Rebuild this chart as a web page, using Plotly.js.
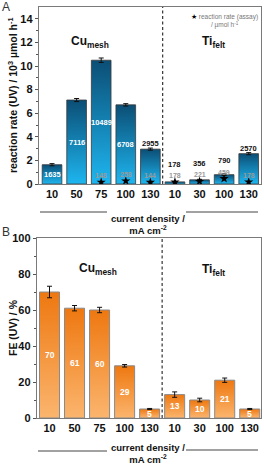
<!DOCTYPE html>
<html><head><meta charset="utf-8">
<script src="https://cdn.plot.ly/plotly-3.0.1.min.js"></script>
<style>html,body{margin:0;padding:0;background:#fff;} #chart{width:264px;height:465px;}</style>
</head><body><div id="chart"></div>
<script>
// ---- data ----
const tickLabels = ['10','50','75','100','130','10','30','100','130'];
const groupNames = ['Cu<sub>mesh</sub>','Ti<sub>felt</sub>'];
const rateUV = [1635, 7116, 10489, 6708, 2955, 178, 356, 790, 2570];      // µmol h-1
const rateUVErr = [90, 130, 190, 100, 90, 30, 40, 70, 90];
const rateAssay = [null, null, 148, 258, 144, 178, 221, 459, 178];       // µmol h-1
const feUV = [70, 61, 60, 29, 5, 13, 10, 21, 5];                          // %
const feErr = [3.2, 1.5, 1.5, 0.7, 0.3, 1.5, 1.0, 1.2, 0.3];

const FONT = 'Liberation Sans, Arial, sans-serif';
const xPos = tickLabels.map((_, i) => i);
const rateK = rateUV.map(v => v / 1000);
const assayK = rateAssay.map(v => v == null ? null : v / 1000);

const data = [
  {type:'bar', x:xPos, y:rateK, xaxis:'x', yaxis:'y', width:0.8,
   marker:{color:'#1590c8', line:{color:'#3a3a3a', width:0.8}},
   error_y:{type:'data', array:rateUVErr.map(v=>v/1000), color:'#111', thickness:1, width:2.5}},
  {type:'scatter', mode:'markers', x:xPos, y:assayK, xaxis:'x', yaxis:'y',
   marker:{symbol:'star', size:7, color:'#000'}},
  {type:'bar', x:xPos, y:feUV, xaxis:'x2', yaxis:'y2', width:0.8,
   marker:{color:'#f59640', line:{color:'#8a8a8a', width:1}},
   error_y:{type:'data', array:feErr, color:'#111', thickness:1, width:2.5}}
];

const ann = [];
function A(o) { ann.push(Object.assign({showarrow:false, xanchor:'center', yanchor:'middle'}, o)); }
// panel A labels
rateK.forEach((v, i) => {
  if (i < 4) {
    A({xref:'x', yref:'y', x:i, y:v/2, text:'<b>'+rateUV[i]+'</b>',
      font:{family:FONT, size:7.5, color:'#fff'}});
  } else {
    const g = assayK[i] != null ? assayK[i] + 0.55 : 0;
    const yb = Math.max(v + 0.45, g + 0.95);
    A({xref:'x', yref:'y', x:i, y:yb, text:'<b>'+rateUV[i]+'</b>',
      font:{family:FONT, size:7.5, color:'#111'}});
  }
  if (assayK[i] != null) {
    A({xref:'x', yref:'y', x:i, y:assayK[i] + 0.55, text:'<b>'+rateAssay[i]+'</b>',
      font:{family:FONT, size:7, color:'#999'}});
  }
});
// panel B labels
feUV.forEach((v, i) => {
  A({xref:'x2', yref:'y2', x:i, y:v/2, text:'<b>'+v+'</b>',
    font:{family:FONT, size:8.5, color:'#fff'}});
});
// group labels
A({xref:'x', yref:'y', x:1.55, y:12, text:'<b>'+groupNames[0]+'</b>', font:{family:FONT, size:12, color:'#111'}});
A({xref:'x', yref:'y', x:6.55, y:12, text:'<b>'+groupNames[1]+'</b>', font:{family:FONT, size:12, color:'#111'}});
A({xref:'x2', yref:'y2', x:1.95, y:83, text:'<b>'+groupNames[0]+'</b>', font:{family:FONT, size:12, color:'#111'}});
A({xref:'x2', yref:'y2', x:6.55, y:82, text:'<b>'+groupNames[1]+'</b>', font:{family:FONT, size:12, color:'#111'}});
// legend text
A({xref:'paper', yref:'paper', x:0.995, y:0.99, xanchor:'right', yanchor:'top', align:'center',
  text:'<span style="color:#000">★</span> reaction rate (assay)<br>/ µmol h<sup>-1</sup>',
  font:{family:FONT, size:6.5, color:'#777'}});
// panel letters
A({xref:'paper', yref:'paper', x:-37/224, y:(418-7)/411, xanchor:'left', text:'A', font:{family:FONT, size:12, color:'#333'}});
A({xref:'paper', yref:'paper', x:-37/224, y:(418-232)/411, xanchor:'left', text:'B', font:{family:FONT, size:12, color:'#333'}});
// x titles
A({xref:'paper', yref:'paper', x:(148-37)/224, y:(418-224)/411, text:'<b>current density /<br>mA cm<sup>-2</sup></b>', font:{family:FONT, size:9.5, color:'#111'}});
A({xref:'paper', yref:'paper', x:(148-37)/224, y:(418-453)/411, text:'<b>current density /<br>mA cm<sup>-2</sup></b>', font:{family:FONT, size:9.5, color:'#111'}});
// y titles
A({xref:'paper', yref:'paper', x:-24/224, y:(418-95)/411, textangle:-90, text:'<b>reaction rate (UV) / 10<sup>3</sup> µmol h<sup>-1</sup></b>', font:{family:FONT, size:10.5, color:'#111'}});
A({xref:'paper', yref:'paper', x:-24/224, y:(418-328)/411, textangle:-90, text:'<b>FE (UV) / %</b>', font:{family:FONT, size:10.5, color:'#111'}});

const lineStyle = {color:'#444', width:1};
const dashStyle = {color:'#333', width:1.2, dash:'3px,2.5px'};
const shapes = [
  {type:'line', xref:'x', yref:'y domain', x0:4.5, x1:4.5, y0:0, y1:1, line:dashStyle},
  {type:'line', xref:'x2', yref:'y2 domain', x0:4.5, x1:4.5, y0:0, y1:1, line:dashStyle},
  {type:'line', xref:'paper', yref:'paper', x0:(40-37)/224, x1:(107-37)/224, y0:(418-212)/411, y1:(418-212)/411, line:lineStyle},
  {type:'line', xref:'paper', yref:'paper', x0:(186-37)/224, x1:(258-37)/224, y0:(418-212)/411, y1:(418-212)/411, line:lineStyle},
  {type:'line', xref:'paper', yref:'paper', x0:(38-37)/224, x1:(107-37)/224, y0:(418-451)/411, y1:(418-451)/411, line:lineStyle},
  {type:'line', xref:'paper', yref:'paper', x0:(186-37)/224, x1:(258-37)/224, y0:(418-450)/411, y1:(418-450)/411, line:lineStyle}
];

const axCommon = {linecolor:'#7a7a7a', linewidth:1.2, mirror:true, showgrid:false, zeroline:false,
  tickfont:{family:FONT, size:11, color:'#111', weight:'bold'}};

const layout = {
  width:264, height:465, margin:{l:37, r:3, t:7, b:47},
  paper_bgcolor:'#fff', plot_bgcolor:'#fff', showlegend:false, bargap:0.2,
  font:{family:FONT},
  xaxis:Object.assign({}, axCommon, {domain:[2/224, 1], anchor:'y', range:[-0.53, 8.5],
    tickmode:'array', tickvals:xPos, ticktext:tickLabels, ticks:''}),
  yaxis:Object.assign({}, axCommon, {domain:[(418-184)/411, 1], anchor:'x', range:[0, 15],
    tickvals:[0,2,4,6,8,10,12,14], ticks:'outside', ticklen:3, tickcolor:'#555',
    minor:{tickvals:[1,3,5,7,9,11,13], ticks:'outside', ticklen:2, tickcolor:'#555'}}),
  xaxis2:Object.assign({}, axCommon, {domain:[0, 1], anchor:'y2', range:[-0.5, 8.45],
    tickmode:'array', tickvals:xPos, ticktext:tickLabels, ticks:''}),
  yaxis2:Object.assign({}, axCommon, {domain:[0, (418-238)/411], anchor:'x2', range:[0, 100],
    tickvals:[0,20,40,60,80,100], ticks:'outside', ticklen:3, tickcolor:'#555',
    minor:{tickvals:[10,30,50,70,90], ticks:'outside', ticklen:2, tickcolor:'#555'}}),
  annotations:ann, shapes:shapes
};

Plotly.newPlot('chart', data, layout, {staticPlot:true, displayModeBar:false}).then(gd => {
  const ns = 'http://www.w3.org/2000/svg';
  const svg = gd.querySelector('svg.main-svg');
  let defs = svg.querySelector('defs');
  if (!defs) { defs = document.createElementNS(ns, 'defs'); svg.insertBefore(defs, svg.firstChild); }
  function addGrad(id, top, bottom) {
    const g = document.createElementNS(ns, 'linearGradient');
    g.setAttribute('id', id); g.setAttribute('x1','0'); g.setAttribute('y1','0'); g.setAttribute('x2','0'); g.setAttribute('y2','1');
    [[0, top], [1, bottom]].forEach(([o, c]) => {
      const s = document.createElementNS(ns, 'stop'); s.setAttribute('offset', o); s.setAttribute('stop-color', c); g.appendChild(s);
    });
    defs.appendChild(g);
  }
  addGrad('gradA', '#0b4e75', '#1eb6f0');
  addGrad('gradB', '#ee7810', '#fbb56e');
  const traces = gd.querySelectorAll('.barlayer .trace');
  if (traces[0]) traces[0].querySelectorAll('.point path').forEach(p => p.style.fill = 'url(#gradA)');
  if (traces[1]) traces[1].querySelectorAll('.point path').forEach(p => p.style.fill = 'url(#gradB)');
});
</script></body></html>
